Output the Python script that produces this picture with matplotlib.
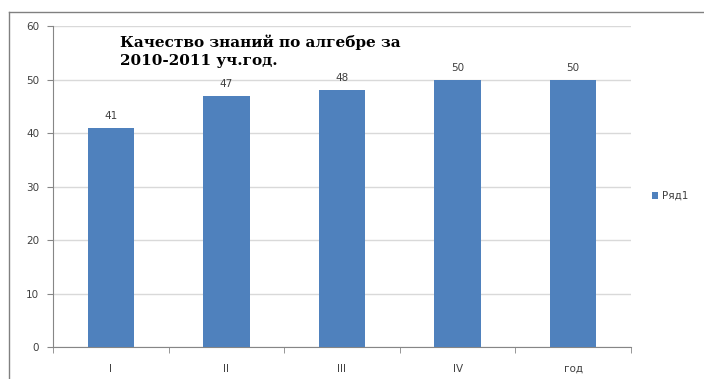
import matplotlib.pyplot as plt
from matplotlib.lines import Line2D

categories = ["I", "II", "III", "IV", "год"]
values = [41, 47, 48, 50, 50]
series_name = "Ряд1"
title = "Качество знаний по алгебре за\n2010-2011 уч.год."

plt.rcParams["font.family"] = ["DejaVu Sans"]

fig = plt.figure(figsize=(7.04, 3.79), dpi=100)
ax = fig.add_axes([53 / 704, 32 / 379, 578 / 704, 321 / 379])

x = list(range(len(categories)))
bars = ax.bar(x, values, width=0.4, color="#4F81BD", label=series_name, zorder=3)
for xi, v in zip(x, values):
    ax.annotate(str(v), (xi, v), xytext=(0, 5), textcoords="offset points",
                ha="center", va="bottom", fontsize=7.5, color="#404040")

ax.set_xlim(-0.5, len(categories) - 0.5)
ax.set_ylim(0, 60)
ax.set_yticks(range(0, 61, 10))
ax.set_xticks(x)
ax.set_xticklabels(categories)
ax.set_xticks([i - 0.5 for i in range(len(categories) + 1)], minor=True)
ax.tick_params(axis="x", which="major", length=0, pad=12, labelsize=7.5, labelcolor="#404040")
ax.tick_params(axis="x", which="minor", length=4, color="#868686", direction="out")
ax.tick_params(axis="y", length=4, color="#868686", labelsize=7.5, labelcolor="#404040", pad=6)

ax.grid(axis="y", color="#D9D9D9", linewidth=1, zorder=0)
for side in ["top", "right"]:
    ax.spines[side].set_visible(False)
for side in ["left", "bottom"]:
    ax.spines[side].set_color("#868686")

fig.text(120 / 704, 1 - 34 / 379, title, ha="left", va="top",
         fontsize=11, fontweight="bold", family="DejaVu Serif",
         linespacing=1.4)

ax.legend(loc="center left", bbox_to_anchor=(1.02, 0.47), frameon=False,
          fontsize=7.5, handlelength=0.6, handleheight=0.6, handletextpad=0.4,
          labelcolor="#404040")

# outer chart frame (cropped at right and bottom)
fig.add_artist(Line2D([9 / 704, 1], [1 - 12 / 379] * 2, color="#808080", lw=1))
fig.add_artist(Line2D([9 / 704] * 2, [0, 1 - 12 / 379], color="#808080", lw=1))

fig.savefig("out.png", dpi=100)
